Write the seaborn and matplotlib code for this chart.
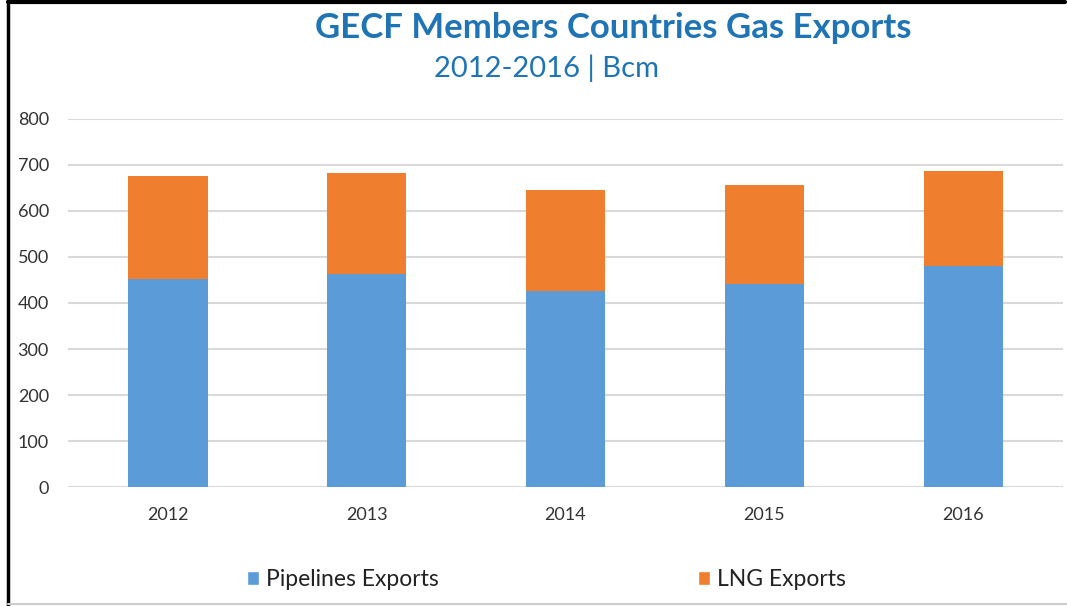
import numpy as np
import pandas as pd
import matplotlib
matplotlib.use("Agg")
import matplotlib.pyplot as plt
from matplotlib.patches import Patch
from matplotlib.lines import Line2D
import seaborn as sns

# data (Bcm)
years = ["2012", "2013", "2014", "2015", "2016"]
pipelines = [453, 464, 426, 442, 480]
lng = [222, 219, 219, 215, 206]

df = pd.DataFrame({"year": years, "pipelines": pipelines, "lng": lng})
df["total"] = df["pipelines"] + df["lng"]

BLUE = "#5B9BD8"
ORANGE = "#EF7E2E"
TITLE_BLUE = "#1F74B5"

sns.set_theme(style="white")
plt.rcParams["font.family"] = ["Lato", "DejaVu Sans"]

fig = plt.figure(figsize=(10.67, 6.06), dpi=100)
ax = fig.add_axes([0.064, 0.196, 0.932, 0.608])

# stacked bars: total first (orange), pipelines on top (blue)
sns.barplot(data=df, x="year", y="total", color=ORANGE, width=0.4,
            saturation=1, linewidth=0, ax=ax, zorder=3)
sns.barplot(data=df, x="year", y="pipelines", color=BLUE, width=0.4,
            saturation=1, linewidth=0, ax=ax, zorder=4)

ax.set_ylim(0, 800)
ax.set_yticks(np.arange(0, 801, 100))
ax.yaxis.grid(True, color="#D9D9D9", linewidth=1.5, zorder=0)
ax.set_axisbelow(True)
for s in ax.spines.values():
    s.set_visible(False)
ax.set_xlabel("")
ax.set_ylabel("")
ax.tick_params(axis="both", length=0, labelsize=13, colors="#333333")
ax.tick_params(axis="x", pad=14)
ax.tick_params(axis="y", pad=14)

fig.text(0.575, 0.953, "GECF Members Countries Gas Exports", ha="center",
         va="center", fontsize=25, fontweight="bold", color=TITLE_BLUE)
fig.text(0.512, 0.887, "2012-2016 | Bcm", ha="center", va="center",
         fontsize=21, color=TITLE_BLUE)

handles = [Patch(facecolor=BLUE, label="Pipelines Exports"),
           Patch(facecolor=ORANGE, label="LNG Exports")]
fig.legend(handles=handles, loc="center", bbox_to_anchor=(0.512, 0.044),
           ncol=2, frameon=False, fontsize=16.5, handlelength=0.55,
           handleheight=0.55, handletextpad=0.3, columnspacing=11.3,
           labelcolor="#222222")

# screenshot frame
fig.add_artist(Line2D([0.0075, 0.0075], [0, 1], color="black", lw=2.5,
                      transform=fig.transFigure))
fig.add_artist(Line2D([0.0075, 0.998], [0.996, 0.996], color="black", lw=3,
                      transform=fig.transFigure))
fig.add_artist(Line2D([0.0075, 1], [0.004, 0.004], color="#CCCCCC", lw=1.5,
                      transform=fig.transFigure))

fig.savefig("out.png", dpi=100, facecolor="white")
